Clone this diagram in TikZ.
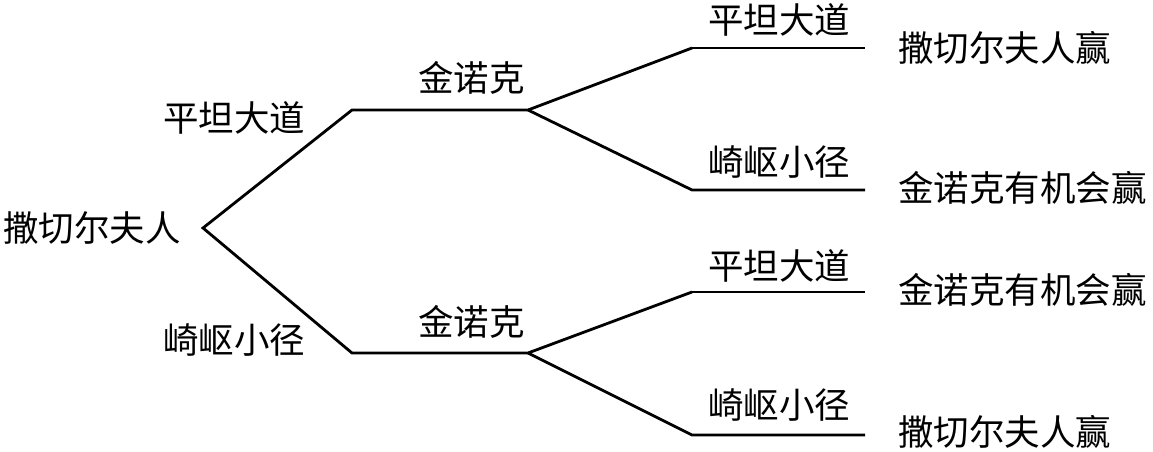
\documentclass[tikz,border=0pt]{standalone}
\usepackage{fontspec}
\newfontfamily\cjk{Noto Sans CJK SC}
\begin{document}
\begin{tikzpicture}[x=1pt,y=-1pt,line width=2.8pt,
    lbl/.style={anchor=west,inner sep=0pt,font=\cjk\fontsize{35.5}{42}\selectfont}]
      \useasboundingbox (0,0) rectangle (1153,452);
      % branch points
      \coordinate (root) at (203,228);
      \coordinate (up) at (352,110);   \coordinate (upk) at (528,110);
      \coordinate (dn) at (352,353);   \coordinate (dnk) at (528,353);
      \coordinate (e1) at (692,48);    \coordinate (f1) at (865,48);
      \coordinate (e2) at (692,190);   \coordinate (f2) at (865,190);
      \coordinate (e3) at (692,292);   \coordinate (f3) at (865,292);
      \coordinate (e4) at (692,435);   \coordinate (f4) at (865,435);
      \draw[line join=miter] (e1) -- (upk) -- (up) -- (root) -- (dn) -- (dnk) -- (e3);
      \draw (upk) -- (e2) -- (f2);
      \draw (e1) -- (f1);
      \draw (dnk) -- (e4) -- (f4);
      \draw (e3) -- (f3);
      % labels
      \node[lbl] (thatcher) at (2,228) {撒切尔夫人};
      \node[lbl] (flat) at (162,118) {平坦大道};
      \node[lbl] (rough) at (162,340) {崎岖小径};
      \node[lbl] (kinup) at (417,78) {金诺克};
      \node[lbl] (kindn) at (417,322) {金诺克};
      \node[lbl] (flatA) at (707,20) {平坦大道};
      \node[lbl] (roughA) at (707,162) {崎岖小径};
      \node[lbl] (flatB) at (707,266) {平坦大道};
      \node[lbl] (roughB) at (707,405) {崎岖小径};
      \node[lbl] (win1) at (897,48) {撒切尔夫人赢};
      \node[lbl] (win2) at (897,188) {金诺克有机会赢};
      \node[lbl] (win3) at (897,290) {金诺克有机会赢};
      \node[lbl] (win4) at (897,432) {撒切尔夫人赢};
    \end{tikzpicture}
\end{document}
